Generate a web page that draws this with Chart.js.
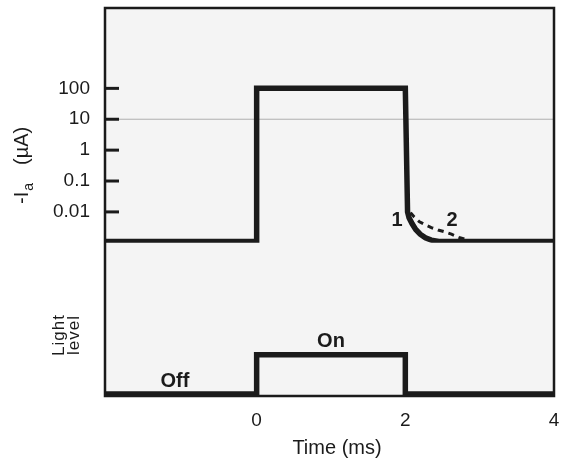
<!DOCTYPE html>
<html><head><meta charset="utf-8">
<script src="https://cdn.jsdelivr.net/npm/chart.js@4"></script>
<style>html,body{margin:0;padding:0;background:#fff;}#wrap{width:561px;height:463px;}</style>
</head><body><div id="wrap"><canvas id="c" width="561" height="463"></canvas></div>
<script>
// ---- data ----
const timeCurrent = [-2.04, 0, 0, 2, 2.03, 2.05, 2.09, 2.14, 2.2, 2.27, 2.35, 2.45, 4];
const current1    = [0.0011, 0.0011, 100, 100, 0.01, 0.0065, 0.0042, 0.0027, 0.0019, 0.00145, 0.00122, 0.0011, 0.0011];
const time2       = [2.07, 2.12, 2.19, 2.27, 2.35, 2.44, 2.52, 2.62, 2.72, 2.85];
const current2    = [0.0095, 0.0068, 0.0048, 0.0038, 0.0031, 0.0026, 0.0023, 0.0019, 0.0015, 0.0012];
const lightTime   = [-2.04, 0, 0, 2, 2, 4];
const lightLevel  = [0, 0, 1, 1, 0, 0];
const currentTicks      = [0.01, 0.1, 1, 10, 100];
const currentTickLabels = ['0.01', '0.1', '1', '10', '100'];
const timeTicks      = [0, 2, 4];
const timeTickLabels = ['0', '2', '4'];
const curveLabels = [{text: '1', x: 1.89, y: 0.0052}, {text: '2', x: 2.63, y: 0.0052}];
const lightLabels = [{text: 'Off', x: -1.1, y: 0.33}, {text: 'On', x: 1.0, y: 1.33}];

const INK = '#1b1b1b';
const FONT = '"Liberation Sans", Arial, Helvetica, sans-serif';
const pts = (xs, ys) => xs.map((x, i) => ({x, y: ys[i]}));

const deco = {
  id: 'deco',
  beforeDraw(chart) {
    const {ctx, chartArea: a} = chart;
    ctx.save();
    ctx.fillStyle = '#f4f4f4';
    ctx.fillRect(a.left, a.top, a.right - a.left, a.bottom - a.top);
    ctx.restore();
  },
  beforeDatasetsDraw(chart) {
    const {ctx, chartArea: a} = chart;
    const y = chart.scales.yCur.getPixelForValue(10);
    ctx.save();
    ctx.strokeStyle = 'rgba(90,90,90,0.45)';
    ctx.lineWidth = 1;
    ctx.beginPath(); ctx.moveTo(a.left, y); ctx.lineTo(a.right, y); ctx.stroke();
    ctx.restore();
  },
  afterDatasetsDraw(chart) {
    const {ctx, chartArea: a} = chart;
    ctx.save();
    ctx.strokeStyle = INK;
    ctx.lineWidth = 2.5;
    ctx.strokeRect(a.left, a.top, a.right - a.left, a.bottom - a.top);
    ctx.lineWidth = 3;
    const ys = chart.scales.yCur;
    currentTicks.forEach(v => {
      const y = ys.getPixelForValue(v);
      ctx.beginPath(); ctx.moveTo(a.left, y); ctx.lineTo(a.left + 14, y); ctx.stroke();
    });
    ctx.restore();
  },
  afterDraw(chart) {
    const {ctx} = chart;
    const xs = chart.scales.x, yc = chart.scales.yCur, yl = chart.scales.yLight;
    ctx.save();
    ctx.fillStyle = INK;
    ctx.font = '20px ' + FONT;
    ctx.textAlign = 'center'; ctx.textBaseline = 'middle';
    ctx.fillText('Time (ms)', 337, 448);
    ctx.font = 'bold 20px ' + FONT;
    curveLabels.forEach(l => ctx.fillText(l.text, xs.getPixelForValue(l.x), yc.getPixelForValue(l.y)));
    lightLabels.forEach(l => ctx.fillText(l.text, xs.getPixelForValue(l.x), yl.getPixelForValue(l.y)));
    ctx.save();
    ctx.translate(28, 204);
    ctx.rotate(-Math.PI / 2);
    ctx.textAlign = 'left'; ctx.textBaseline = 'alphabetic';
    ctx.font = '20px ' + FONT;
    ctx.fillText('-I', 0, 0);
    const w = ctx.measureText('-I').width;
    ctx.font = '14px ' + FONT;
    ctx.fillText('a', w + 1, 5);
    ctx.font = '20px ' + FONT;
    ctx.fillText('(µA)', 39, 0);
    ctx.restore();
    ctx.save();
    ctx.translate(0, 335);
    ctx.rotate(-Math.PI / 2);
    ctx.textAlign = 'center'; ctx.textBaseline = 'alphabetic';
    ctx.font = '17px ' + FONT;
    try { ctx.letterSpacing = '1px'; } catch (e) {}
    ctx.fillText('Light', 0, 64);
    ctx.fillText('level', 0, 79);
    ctx.restore();
    ctx.restore();
  }
};

const noPad = s => { s.paddingTop = 0; s.paddingBottom = 0; s.paddingLeft = 0; s.paddingRight = 0; };
const fixW = s => { s.width = 105; noPad(s); };

new Chart(document.getElementById('c'), {
  type: 'line',
  data: {
    datasets: [
      {data: pts(timeCurrent, current1), yAxisID: 'yCur', borderColor: INK, borderWidth: 5.5, borderJoinStyle: 'miter', pointRadius: 0, tension: 0},
      {data: pts(time2, current2), yAxisID: 'yCur', borderColor: INK, borderWidth: 3, borderDash: [6, 5], pointRadius: 0, tension: 0},
      {data: pts(lightTime, lightLevel), yAxisID: 'yLight', borderColor: INK, borderWidth: 5.5, borderJoinStyle: 'miter', pointRadius: 0, tension: 0}
    ]
  },
  options: {
    responsive: false, animation: false,
    layout: {padding: {top: 8, right: 7, left: 0, bottom: 0}},
    plugins: {legend: {display: false}, tooltip: {enabled: false}},
    scales: {
      x: {
        type: 'linear', min: -2.04, max: 4,
        afterBuildTicks: s => { s.ticks = timeTicks.map(v => ({value: v})); },
        afterFit: s => { s.height = 67; noPad(s); },
        grid: {display: false, drawTicks: false}, border: {display: false},
        ticks: {padding: 13, color: INK, font: {family: FONT, size: 19}, maxRotation: 0,
                callback: (v) => timeTickLabels[timeTicks.indexOf(v)]}
      },
      yLight: {
        type: 'linear', position: 'left', stack: 'left', stackWeight: 154,
        min: -0.05, max: 3.85,
        afterFit: fixW,
        grid: {display: false, drawTicks: false}, border: {display: false},
        ticks: {display: false}
      },
      yCur: {
        type: 'logarithmic', position: 'left', stack: 'left', stackWeight: 236,
        min: 0.001, max: 40000,
        afterBuildTicks: s => { s.ticks = currentTicks.map(v => ({value: v})); },
        afterFit: fixW,
        grid: {display: false, drawTicks: false}, border: {display: false},
        ticks: {padding: 15, color: INK, font: {family: FONT, size: 19},
                callback: (v) => currentTickLabels[currentTicks.indexOf(v)]}
      }
    }
  },
  plugins: [deco]
});
</script></body></html>
